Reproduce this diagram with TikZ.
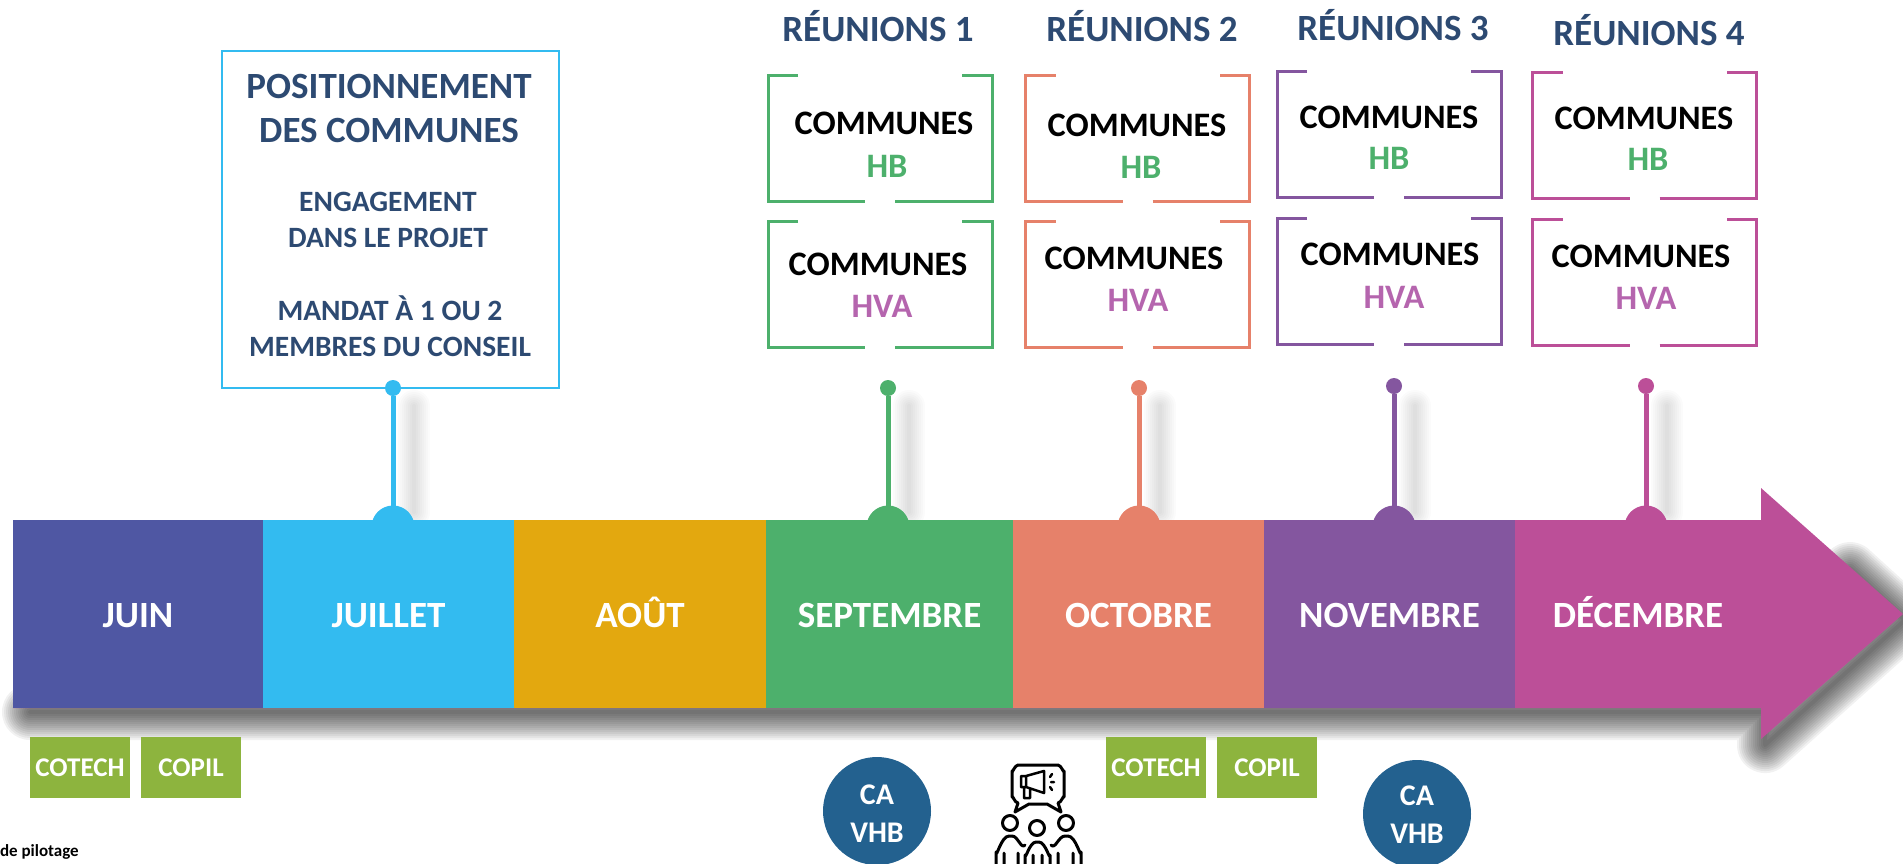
\documentclass[tikz,border=0pt]{standalone}
\usepackage{fontspec}
\setmainfont{Carlito}
\usetikzlibrary{positioning}
\usetikzlibrary{calc}
\definecolor{indigo}{HTML}{4F57A3}
\definecolor{ciel}{HTML}{33BBF0}
\definecolor{ocre}{HTML}{E3A80F}
\definecolor{vert}{HTML}{4DB06C}
\definecolor{corail}{HTML}{E6816A}
\definecolor{violet}{HTML}{84569F}
\definecolor{prune}{HTML}{BC4F98}
\definecolor{mauve}{HTML}{B565AE}
\definecolor{marine}{HTML}{2D4A72}
\definecolor{herbe}{HTML}{8DB43E}
\definecolor{petrole}{HTML}{23618F}
\tikzset{
    base/.style =   {
                        inner sep=0pt, outer sep=0pt,
                        text centered, text depth=0pt
                    },
    month/.style = {base, minimum height=188pt, text=white, text height=26pt,
                    font=\bfseries\fontsize{37}{37}\selectfont},
    title/.style = {base, text=marine, text height=24pt, font=\bfseries\fontsize{37}{37}\selectfont},
    commune/.style = {base, text=black, text height=22pt, font=\bfseries\fontsize{34.3}{34.3}\selectfont},
    heading/.style = {inner sep=0pt, outer sep=0pt, text=marine, align=center, font=\bfseries\fontsize{37}{44}\selectfont},
    subheading/.style = {inner sep=0pt, outer sep=0pt, text=marine, align=center, font=\bfseries\fontsize{29.5}{35.5}\selectfont},
    bracket/.style = {base, minimum width=224pt, minimum height=126pt,
        append after command={\pgfextra{
            \draw[draw=#1, line width=3pt]
                ($(\tikzlastnode.north west)+(30,0)$) -- (\tikzlastnode.north west)
                -- (\tikzlastnode.south west) -- ($(\tikzlastnode.south)+(-15,0)$);
            \draw[draw=#1, line width=3pt]
                ($(\tikzlastnode.south)+(15,0)$) -- (\tikzlastnode.south east)
                -- (\tikzlastnode.north east) -- ($(\tikzlastnode.north east)+(-30,0)$);
        }}},
    pin/.style = {circle, inner sep=0pt, outer sep=0pt, minimum size=16pt, fill=#1},
    bump/.style = {circle, inner sep=0pt, outer sep=0pt, minimum size=43pt, fill=#1},
    stem/.style = {draw=#1, line width=5pt},
    meeting/.style = {base, fill=herbe, minimum width=100pt, minimum height=61pt, text=white,
                      text height=17pt, font=\bfseries\fontsize{27}{27}\selectfont},
    board/.style = {circle, inner sep=0pt, outer sep=0pt, minimum size=108pt, fill=petrole},
    boardtext/.style = {inner sep=0pt, outer sep=0pt, text=white, align=center, font=\bfseries\fontsize{30}{38}\selectfont},
    icon/.style = {draw=black, line width=3pt, line join=round, line cap=round}
}
\begin{document}
\begin{tikzpicture}[x=1pt, y=-1pt]
    \clip (0,0) rectangle (1903,863);

    \foreach \w in {4,8,...,56} {
        \path[draw=black, line width=\w pt, line join=round, line cap=round, opacity=.055]
            (30,712) -- (1765,712) -- (1765,745) -- (1905,620) -- (1850,570);
    }
    \foreach \x in {393,888,1139,1394,1646} {
        \foreach \w in {4,8,...,32} {
            \path[draw=black, line width=\w pt, line cap=round, opacity=.017] (\x+21,406) -- (\x+21,512);
        }
    }

    \path[fill=prune] (13,520) -- (1761,520) -- (1761,488) -- (1903,614) -- (1761,739) -- (1761,708) -- (13,708) -- cycle;

    \node (bump_juillet)   [bump=ciel]   at (393,527)  {};
    \node (bump_septembre) [bump=vert]   at (888,527)  {};
    \node (bump_octobre)   [bump=corail] at (1139,527) {};
    \node (bump_novembre)  [bump=violet] at (1394,527) {};
    \node (bump_decembre)  [bump=prune]  at (1646,527) {};

    \node (juin)      [month, fill=indigo, minimum width=250pt] at (138,614) {JUIN};
    \node (juillet)   [month, fill=ciel,   minimum width=251pt, right=0pt of juin]      {JUILLET};
    \node (aout)      [month, fill=ocre,   minimum width=252pt, right=0pt of juillet]   {AOÛT};
    \node (septembre) [month, fill=vert,   minimum width=247pt, right=0pt of aout]      {SEPTEMBRE};
    \node (octobre)   [month, fill=corail, minimum width=251pt, right=0pt of septembre] {OCTOBRE};
    \node (novembre)  [month, fill=violet, minimum width=251pt, right=0pt of octobre]   {NOVEMBRE};
    \node (decembre)  [month, fill=prune,  minimum width=246pt, right=0pt of novembre]  {DÉCEMBRE};

    \node (cadre) [base, draw=ciel, line width=2.5pt, minimum width=337pt, minimum height=337pt] at (390.5,219.5) {};
    \node (positionnement) [heading]    at (389,108)   {POSITIONNEMENT\\ DES COMMUNES};
    \node (engagement)     [subheading] at (388,220) {ENGAGEMENT\\ DANS LE PROJET};
    \node (mandat)         [subheading] at (390,326)   {MANDAT À 1 OU 2\\ MEMBRES DU CONSEIL};

    \node (pin_juillet)   [pin=ciel]   at (393,388)  {};
    \node (pin_septembre) [pin=vert]   at (888,388)  {};
    \node (pin_octobre)   [pin=corail] at (1139,388) {};
    \node (pin_novembre)  [pin=violet] at (1394,386) {};
    \node (pin_decembre)  [pin=prune]  at (1646,386) {};

    \draw[stem=ciel]   (pin_juillet)   -- (bump_juillet);
    \draw[stem=vert]   (pin_septembre) -- (bump_septembre);
    \draw[stem=corail] (pin_octobre)   -- (bump_octobre);
    \draw[stem=violet] (pin_novembre)  -- (bump_novembre);
    \draw[stem=prune]  (pin_decembre)  -- (bump_decembre);

    \node (reunion1) [title] at (878,29)  {RÉUNIONS 1};
    \node (reunion2) [title] at (1142,29) {RÉUNIONS 2};
    \node (reunion3) [title] at (1393,28) {RÉUNIONS 3};
    \node (reunion4) [title] at (1649,33) {RÉUNIONS 4};

    \node (box_hb1)  [bracket=vert]   at (880,138)    {};
    \node (box_hva1) [bracket=vert,   below=20pt of box_hb1] {};
    \node (box_hb2)  [bracket=corail] at (1137.5,138) {};
    \node (box_hva2) [bracket=corail, below=20pt of box_hb2] {};
    \node (box_hb3)  [bracket=violet] at (1389,134)   {};
    \node (box_hva3) [bracket=violet, below=21pt of box_hb3] {};
    \node (box_hb4)  [bracket=prune]  at (1644.5,135) {};
    \node (box_hva4) [bracket=prune,  below=21pt of box_hb4] {};

    \node (commune_hb1)  [commune] at (884,123.5) {COMMUNES};
    \node (hb1)          [commune, text=vert]  at (887,166)  {HB};
    \node (commune_hva1) [commune] at (878,264)  {COMMUNES};
    \node (hva1)         [commune, text=mauve] at (882,306)  {HVA};
    \node (commune_hb2)  [commune] at (1137,125) {COMMUNES};
    \node (hb2)          [commune, text=vert]  at (1141,167) {HB};
    \node (commune_hva2) [commune] at (1134,258) {COMMUNES};
    \node (hva2)         [commune, text=mauve] at (1138,300) {HVA};
    \node (commune_hb3)  [commune] at (1389,117) {COMMUNES};
    \node (hb3)          [commune, text=vert]  at (1389,158) {HB};
    \node (commune_hva3) [commune] at (1390,254) {COMMUNES};
    \node (hva3)         [commune, text=mauve] at (1394,297) {HVA};
    \node (commune_hb4)  [commune] at (1644,118) {COMMUNES};
    \node (hb4)          [commune, text=vert]  at (1648,159) {HB};
    \node (commune_hva4) [commune] at (1641,256) {COMMUNES};
    \node (hva4)         [commune, text=mauve] at (1646,298) {HVA};

    \node (cotech1) [meeting] at (80,767.5) {COTECH};
    \node (copil1)  [meeting, right=11pt of cotech1] {COPIL};
    \node (cotech2) [meeting] at (1156,767.5) {COTECH};
    \node (copil2)  [meeting, right=11pt of cotech2] {COPIL};

    \node (ca1) [board] at (877,811)  {};
    \node (ca1_text) [boardtext] at (877,814)  {CA\\ VHB};
    \node (ca2) [board] at (1417,814) {};
    \node (ca2_text) [boardtext] at (1417,815) {CA\\ VHB};

    \node (pilotage) [base, anchor=west, text height=12pt, font=\bfseries\fontsize{17}{17}\selectfont] at (0,850) {de pilotage};

    \draw[icon] (1018,765) -- (1058,765) to[out=0, in=-90] (1064,771) -- (1064,797) to[out=90, in=0] (1058,803)
        -- (1061,812) -- (1047,804) -- (1029,804) -- (1015,812) -- (1018,803) to[out=180, in=90] (1012,797)
        -- (1012,771) to[out=-90, in=180] cycle;
    \draw[icon, line width=2.5pt] (1021,776) -- (1026,776) -- (1044,771) -- (1044,793) -- (1026,787) -- (1021,787) -- cycle
        (1026,776) -- (1026,787) (1024,787) -- (1024,798) -- (1030,798) -- (1030,789);
    \draw[icon, line width=2.5pt] (1050,777) -- (1052,774) (1051,782) -- (1054,782) (1050,787) -- (1052,790);
    \draw[icon] (1010,823) circle (7.5) (1037,828) circle (7.5) (1066,823) circle (7.5);
    \draw[icon] (996,865) -- (996,852) to[out=-90, in=180] (1009,836) -- (1012,836) to[out=0, in=-130] (1025,845)
        (1004,865) -- (1004,853);
    \draw[icon] (1025,865) -- (1025,855) to[out=-90, in=180] (1036,842) -- (1039,842) to[out=0, in=-90] (1050,855) -- (1050,865)
        (1033,865) -- (1033,855) (1042,865) -- (1042,855);
    \draw[icon] (1081,865) -- (1081,852) to[out=-90, in=0] (1068,836) -- (1065,836) to[out=180, in=-50] (1051,845)
        (1073,865) -- (1073,853) (1018,865) -- (1018,853) (1058,865) -- (1058,853);
\end{tikzpicture}
\end{document}
